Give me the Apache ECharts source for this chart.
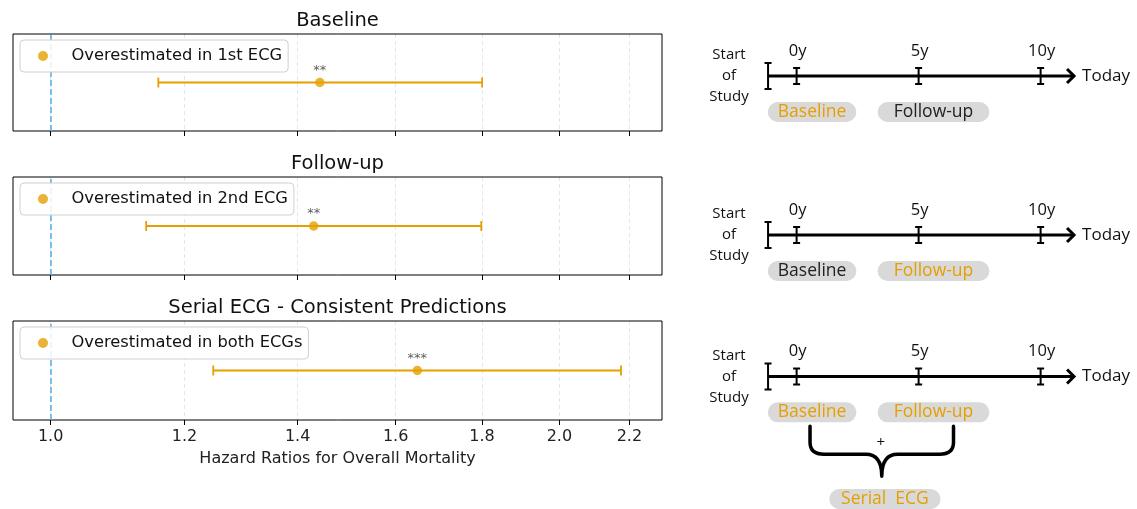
<!DOCTYPE html>
<html><head><meta charset="utf-8">
<script src="https://cdn.jsdelivr.net/npm/echarts@6/dist/echarts.min.js"></script>
<style>html,body{margin:0;padding:0;background:#fff}#c{width:1137px;height:509px}</style>
</head><body><div id="c"></div>
<script>
// ---------- data ----------
const panelTitles = ['Baseline', 'Follow-up', 'Serial ECG - Consistent Predictions'];
const legendNames = ['Overestimated in 1st ECG', 'Overestimated in 2nd ECG', 'Overestimated in both ECGs'];
const hazardRatios = [1.443, 1.431, 1.648];
const ciLower = [1.158, 1.139, 1.248];
const ciUpper = [1.800, 1.798, 2.175];
const significance = ['**', '**', '***'];
const hrTicks = [1.0, 1.2, 1.4, 1.6, 1.8, 2.0, 2.2];
const referenceHR = 1.0;

const timelineYears = [0, 5, 10];
const timelineLabels = ['0y', '5y', '10y'];
const studyStart = -1.17;
const timelineEnd = 11.37;
const phaseNames = ['Baseline', 'Follow-up'];
const phaseStart = [-1.18, 3.32];
const phaseEnd = [2.45, 7.9];
const highlightedPhases = [['Baseline'], ['Follow-up'], ['Baseline', 'Follow-up']];
const serialName = 'Serial  ECG';
const serialStart = 1.34, serialEnd = 5.9;
const braceStart = 0.55, braceEnd = 6.43;

// ---------- style ----------
const ORANGE = '#E69F00';
const BLUE = '#56B4E9';
const PILL = '#D9D9D9';
const LFONT = 'DejaVu Sans';
const RFONT = 'Open Sans';

const leftTops = [34, 177, 321];
const leftH = [97, 98, 99];
const rightTops = [26, 185, 326.7];
const RH = 183;

const grids = [], xAxes = [], yAxes = [], series = [], titles = [], legends = [];

for (let i = 0; i < 3; i++) {
  grids.push({left: 13, width: 649, top: leftTops[i], height: leftH[i], show: true,
    borderColor: '#000', borderWidth: 1, backgroundColor: 'transparent', z: 1});
  xAxes.push({type: 'log', logBase: 10, gridIndex: i, min: 0.95, max: 2.3, position: 'bottom',
    axisLine: {show: false, onZero: false},
    axisTick: {show: true, customValues: hrTicks, length: 5, lineStyle: {color: '#000', width: 1}},
    axisLabel: {show: i === 2, customValues: hrTicks, formatter: v => Number(v).toFixed(1),
      fontFamily: LFONT, fontSize: 16, color: '#222', margin: 9},
    splitLine: {show: true, lineStyle: {color: '#e6e6e6', type: [4, 3], width: 1}},
    name: i === 2 ? 'Hazard Ratios for Overall Mortality' : '',
    nameLocation: 'middle', nameGap: 31,
    nameTextStyle: {fontFamily: LFONT, fontSize: 16, color: '#222'}
  });
  yAxes.push({type: 'value', gridIndex: i, min: -1, max: 1, show: false});
  titles.push({text: panelTitles[i], left: 337.5, top: leftTops[i] - 23, textAlign: 'center', padding: 0,
    textStyle: {fontFamily: LFONT, fontSize: 19.5, fontWeight: 'normal', color: '#111'}});
  legends.push({data: [legendNames[i]], left: 20, top: leftTops[i] + 6, orient: 'vertical',
    padding: [8, 6, 8, 18], itemWidth: 47, itemHeight: 10, icon: 'circle',
    borderColor: '#d0d0d0', borderWidth: 1, borderRadius: 4,
    backgroundColor: 'rgba(255,255,255,0.85)', z: 10,
    textStyle: {fontFamily: LFONT, fontSize: 16.3, color: '#111'}});

  // error bar
  series.push({type: 'custom', name: legendNames[i] + ' CI', xAxisIndex: i, yAxisIndex: i,
    data: [[ciLower[i], ciUpper[i], 0]], z: 3, silent: true,
    renderItem: function (params, api) {
      const a = api.coord([api.value(0), api.value(2)]);
      const b = api.coord([api.value(1), api.value(2)]);
      const st = {stroke: ORANGE, lineWidth: 1.8};
      return {type: 'group', children: [
        {type: 'line', shape: {x1: a[0], y1: a[1], x2: b[0], y2: b[1]}, style: st},
        {type: 'line', shape: {x1: a[0], y1: a[1] - 5, x2: a[0], y2: a[1] + 5}, style: st},
        {type: 'line', shape: {x1: b[0], y1: b[1] - 5, x2: b[0], y2: b[1] + 5}, style: st}
      ]};
    }});
  // point
  series.push({type: 'scatter', name: legendNames[i], xAxisIndex: i, yAxisIndex: i,
    data: [[hazardRatios[i], 0]], symbolSize: 9.5, itemStyle: {color: ORANGE}, z: 4,
    label: {show: true, position: 'top', distance: 1, formatter: significance[i],
      fontFamily: LFONT, fontSize: 13, color: '#333'},
    markLine: {silent: true, symbol: 'none', label: {show: false},
      lineStyle: {color: BLUE, type: [6, 3], width: 1.6},
      data: [{xAxis: referenceHR}]}
  });
}

// ---------- right timelines ----------
const AXY = 50; // axis line level in grid units
for (let r = 0; r < 3; r++) {
  const gi = 3 + r;
  grids.push({left: 699, width: 438, top: rightTops[r], height: RH, show: false});
  xAxes.push({type: 'value', gridIndex: gi, min: -4, max: 13.95, show: false});
  yAxes.push({type: 'value', gridIndex: gi, min: 0, max: RH, inverse: true, show: false});

  // main arrow line + start tick + texts
  series.push({type: 'custom', xAxisIndex: gi, yAxisIndex: gi, silent: true,
    data: [[studyStart, timelineEnd]],
    renderItem: function (params, api) {
      const s = api.coord([api.value(0), AXY]);
      const e = api.coord([api.value(1), AXY]);
      const k = {stroke: '#000', lineWidth: 3};
      const t = {stroke: '#000', lineWidth: 2};
      const txt = (x, y, str, size, align) => ({type: 'text', x: x, y: y,
        style: {text: str, fontFamily: RFONT, fontSize: size, fill: '#111', align: align || 'center', verticalAlign: 'middle'}});
      const st = api.coord([api.value(0) - 1.6, AXY]);
      return {type: 'group', children: [
        {type: 'line', shape: {x1: s[0], y1: s[1], x2: e[0] - 2, y2: e[1]}, style: k},
        {type: 'polyline', shape: {points: [[e[0] - 7, e[1] - 7], [e[0], e[1]], [e[0] - 7, e[1] + 7]]}, style: {stroke: '#000', lineWidth: 3, fill: null}},
        {type: 'line', shape: {x1: s[0], y1: s[1] - 13, x2: s[0], y2: s[1] + 13}, style: t},
        {type: 'line', shape: {x1: s[0] - 3.5, y1: s[1] - 13, x2: s[0] + 3.5, y2: s[1] - 13}, style: t},
        {type: 'line', shape: {x1: s[0] - 3.5, y1: s[1] + 13, x2: s[0] + 3.5, y2: s[1] + 13}, style: t},
        txt(e[0] + 8, e[1], 'Today', 17, 'left'),
        txt(st[0], st[1] - 21, 'Start', 15),
        txt(st[0], st[1], 'of', 15),
        txt(st[0], st[1] + 21, 'Study', 15)
      ]};
    }});

  // year ticks
  series.push({type: 'custom', xAxisIndex: gi, yAxisIndex: gi, silent: true,
    data: timelineYears.map((y, j) => [y, j]),
    renderItem: function (params, api) {
      const p = api.coord([api.value(0), AXY]);
      const t = {stroke: '#000', lineWidth: 2};
      return {type: 'group', children: [
        {type: 'line', shape: {x1: p[0], y1: p[1] - 8, x2: p[0], y2: p[1] + 8}, style: t},
        {type: 'line', shape: {x1: p[0] - 3.5, y1: p[1] - 8, x2: p[0] + 3.5, y2: p[1] - 8}, style: t},
        {type: 'line', shape: {x1: p[0] - 3.5, y1: p[1] + 8, x2: p[0] + 3.5, y2: p[1] + 8}, style: t},
        {type: 'text', x: p[0] + 1, y: p[1] - 25,
          style: {text: timelineLabels[api.value(1)], fontFamily: RFONT, fontSize: 16.5, fill: '#111', align: 'center', verticalAlign: 'middle'}}
      ]};
    }});

  // phase pills
  const pills = phaseNames.map((n, j) => [phaseStart[j], phaseEnd[j], AXY + 36, j]);
  if (r === 2) pills.push([serialStart, serialEnd, AXY + 123, 2]);
  const names = phaseNames.concat([serialName]);
  series.push({type: 'custom', xAxisIndex: gi, yAxisIndex: gi, silent: true,
    data: pills,
    renderItem: function (params, api) {
      const a = api.coord([api.value(0), api.value(2)]);
      const b = api.coord([api.value(1), api.value(2)]);
      const nm = names[api.value(3)];
      const hi = (r === 2) || highlightedPhases[r].indexOf(nm) >= 0;
      return {type: 'group', children: [
        {type: 'rect', shape: {x: a[0], y: a[1] - 10, width: b[0] - a[0], height: 20, r: 10}, style: {fill: PILL}},
        {type: 'text', x: (a[0] + b[0]) / 2, y: a[1],
          style: {text: nm, fontFamily: RFONT, fontSize: 17.5, fill: hi ? ORANGE : '#222', align: 'center', verticalAlign: 'middle'}}
      ]};
    }});

  if (r === 2) {
    series.push({type: 'custom', xAxisIndex: gi, yAxisIndex: gi, silent: true,
      data: [[braceStart, braceEnd]],
      renderItem: function (params, api) {
        const L = api.coord([api.value(0), AXY + 50]);
        const R = api.coord([api.value(1), AXY + 50]);
        const yMid = api.coord([0, AXY + 78])[1];
        const yTip = api.coord([0, AXY + 100])[1];
        const xc = (L[0] + R[0]) / 2;
        const d = `M${L[0]},${L[1]} L${L[0]},${yMid - 12} Q${L[0]},${yMid} ${L[0] + 14},${yMid} L${xc - 16},${yMid} Q${xc},${yMid} ${xc},${yTip}` +
          ` M${R[0]},${R[1]} L${R[0]},${yMid - 12} Q${R[0]},${yMid} ${R[0] - 14},${yMid} L${xc + 16},${yMid} Q${xc},${yMid} ${xc},${yTip}`;
        return {type: 'group', children: [
          {type: 'path', shape: {pathData: d}, style: {stroke: '#000', lineWidth: 3.5, fill: null, lineCap: 'round', lineJoin: 'round'}},
          {type: 'text', x: xc - 1, y: api.coord([0, AXY + 66])[1],
            style: {text: '+', fontFamily: RFONT, fontSize: 15, fill: '#111', align: 'center', verticalAlign: 'middle'}}
        ]};
      }});
  }
}

const chart = echarts.init(document.getElementById('c'), null, {renderer: 'canvas'});
chart.setOption({
  animation: false,
  backgroundColor: '#fff',
  title: titles,
  legend: legends,
  grid: grids,
  xAxis: xAxes,
  yAxis: yAxes,
  series: series
});
</script>
</body></html>
